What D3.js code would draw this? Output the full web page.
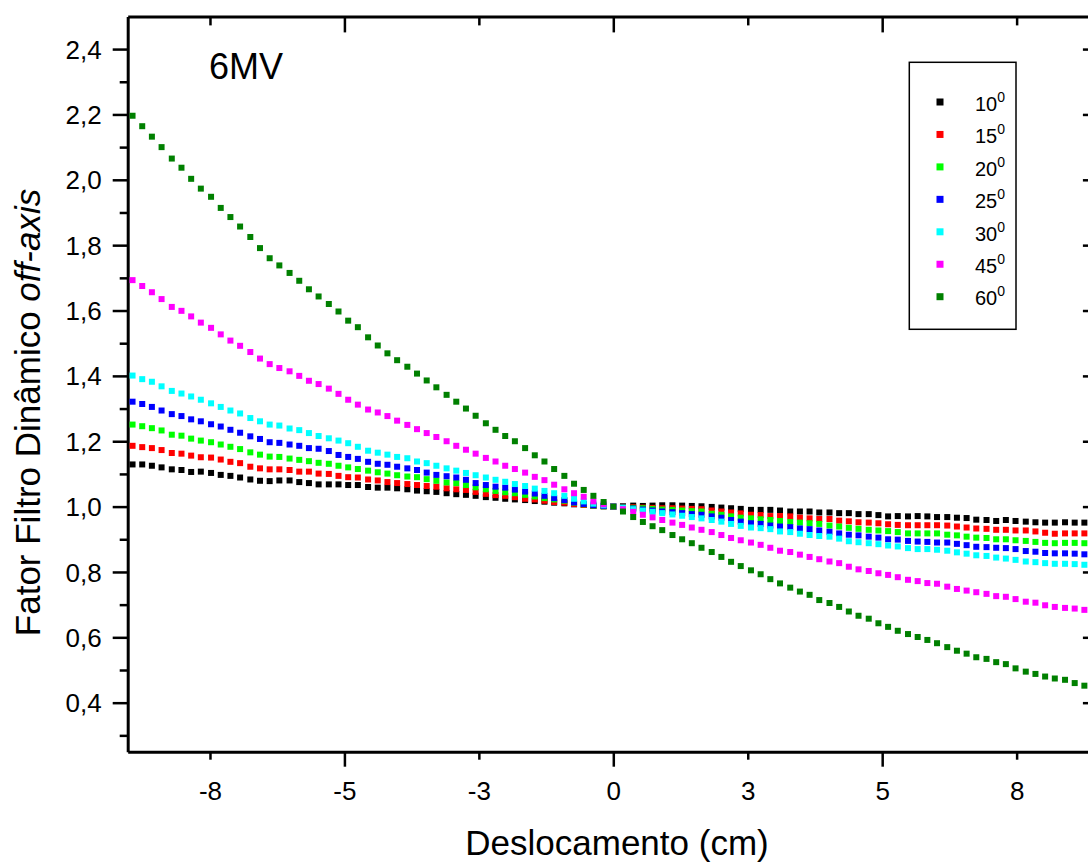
<!DOCTYPE html>
<html>
<head>
<meta charset="utf-8">
<script src="https://cdn.jsdelivr.net/npm/d3@7"></script>
<style>
  html, body { margin: 0; padding: 0; background: #fff; }
  svg { display: block; font-family: "Liberation Sans", Arial, sans-serif; }
</style>
</head>
<body>
<svg id="chart" width="1088" height="863"></svg>
<script>
// ---------- DATA ----------
const positions = [
  -8.94, -8.76, -8.58, -8.40, -8.21, -8.03, -7.85, -7.67, -7.48, -7.30,
  -7.12, -6.94, -6.75, -6.57, -6.39, -6.21, -6.02, -5.84, -5.66, -5.48,
  -5.29, -5.11, -4.93, -4.75, -4.56, -4.38, -4.20, -4.02, -3.83, -3.65,
  -3.47, -3.29, -3.10, -2.92, -2.74, -2.56, -2.37, -2.19, -2.01, -1.83,
  -1.64, -1.46, -1.28, -1.10, -0.91, -0.73, -0.55, -0.37, -0.18, 0.00,
  0.18, 0.37, 0.55, 0.73, 0.91, 1.10, 1.28, 1.46, 1.64, 1.83,
  2.01, 2.19, 2.37, 2.56, 2.74, 2.92, 3.10, 3.29, 3.47, 3.65,
  3.83, 4.02, 4.20, 4.38, 4.56, 4.75, 4.93, 5.11, 5.29, 5.48,
  5.66, 5.84, 6.02, 6.21, 6.39, 6.57, 6.75, 6.94, 7.12, 7.30,
  7.48, 7.67, 7.85, 8.03, 8.21, 8.40, 8.58, 8.76
];

const seriesNames = ["10", "15", "20", "25", "30", "45", "60"];

const s10 = [
  1.129, 1.129, 1.125, 1.120, 1.114, 1.112, 1.106, 1.107, 1.103, 1.097, 1.094, 1.089, 1.083, 1.079,
  1.078, 1.080, 1.080, 1.075, 1.072, 1.068, 1.068, 1.068, 1.066, 1.066, 1.060, 1.058, 1.058, 1.056,
  1.053, 1.049, 1.047, 1.045, 1.041, 1.038, 1.036, 1.033, 1.029, 1.027, 1.024, 1.022, 1.020, 1.017,
  1.015, 1.012, 1.010, 1.007, 1.005, 1.002, 1.001,
  1.000,
  1.001, 1.003, 1.002, 1.003, 1.004, 1.004, 1.003, 1.002,
  1.001, 0.999, 0.997, 0.995, 0.993, 0.990, 0.990, 0.990, 0.988, 0.985, 0.985, 0.985, 0.982, 0.982,
  0.980, 0.980, 0.977, 0.977, 0.974, 0.970, 0.971, 0.970, 0.971, 0.970, 0.968, 0.968, 0.966, 0.965,
  0.960, 0.959, 0.956, 0.959, 0.956, 0.954, 0.952, 0.951, 0.951, 0.952, 0.951, 0.951
];
const s15 = [
  1.186, 1.182, 1.179, 1.173, 1.164, 1.162, 1.156, 1.151, 1.150, 1.144, 1.137, 1.133, 1.122, 1.117,
  1.114, 1.114, 1.112, 1.107, 1.107, 1.101, 1.100, 1.094, 1.090, 1.089, 1.083, 1.080, 1.075, 1.072,
  1.069, 1.066, 1.063, 1.061, 1.056, 1.053, 1.051, 1.045, 1.039, 1.035, 1.033, 1.029, 1.024, 1.022,
  1.018, 1.014, 1.012, 1.008, 1.005, 1.002, 1.001,
  1.000,
  0.999, 0.998, 0.997, 0.996, 0.995, 0.995, 0.994, 0.993,
  0.992, 0.988, 0.985, 0.982, 0.979, 0.975, 0.974, 0.971, 0.971, 0.970, 0.966, 0.964, 0.962, 0.962,
  0.957, 0.955, 0.952, 0.951, 0.949, 0.946, 0.944, 0.943, 0.943, 0.943, 0.943, 0.942, 0.939, 0.936,
  0.933, 0.932, 0.929, 0.929, 0.927, 0.927, 0.924, 0.920, 0.917, 0.918, 0.918, 0.918
];
const s20 = [
  1.251, 1.246, 1.240, 1.233, 1.220, 1.217, 1.208, 1.202, 1.197, 1.190, 1.183, 1.176, 1.166, 1.159,
  1.153, 1.152, 1.147, 1.143, 1.139, 1.134, 1.131, 1.125, 1.120, 1.115, 1.110, 1.105, 1.101, 1.096,
  1.092, 1.090, 1.084, 1.079, 1.074, 1.072, 1.066, 1.059, 1.053, 1.048, 1.044, 1.041, 1.036, 1.031,
  1.026, 1.022, 1.018, 1.012, 1.007, 1.003, 1.001,
  1.000,
  0.998, 0.996, 0.995, 0.993, 0.991, 0.990, 0.988, 0.986,
  0.985, 0.978, 0.975, 0.970, 0.966, 0.964, 0.961, 0.959, 0.956, 0.953, 0.951, 0.949, 0.947, 0.942,
  0.939, 0.935, 0.932, 0.929, 0.927, 0.925, 0.922, 0.918, 0.918, 0.918, 0.918, 0.914, 0.912, 0.908,
  0.905, 0.904, 0.900, 0.900, 0.897, 0.895, 0.892, 0.889, 0.888, 0.889, 0.889, 0.888
];
const s25 = [
  1.321, 1.314, 1.305, 1.294, 1.283, 1.277, 1.267, 1.261, 1.252, 1.245, 1.235, 1.226, 1.215, 1.207,
  1.197, 1.195, 1.190, 1.186, 1.179, 1.177, 1.170, 1.158, 1.152, 1.146, 1.137, 1.131, 1.128, 1.122,
  1.117, 1.112, 1.104, 1.097, 1.093, 1.089, 1.082, 1.072, 1.066, 1.061, 1.058, 1.052, 1.046, 1.040,
  1.033, 1.026, 1.020, 1.013, 1.008, 1.004, 1.002,
  1.000,
  0.997, 0.994, 0.991, 0.988, 0.985, 0.983, 0.980, 0.977,
  0.975, 0.970, 0.966, 0.959, 0.954, 0.949, 0.947, 0.942, 0.939, 0.937, 0.933, 0.931, 0.927, 0.923,
  0.918, 0.914, 0.912, 0.908, 0.905, 0.900, 0.899, 0.895, 0.893, 0.892, 0.890, 0.890, 0.886, 0.882,
  0.877, 0.876, 0.874, 0.873, 0.870, 0.864, 0.862, 0.858, 0.857, 0.857, 0.856, 0.854
];
const s30 = [
  1.401, 1.390, 1.382, 1.368, 1.354, 1.346, 1.337, 1.327, 1.316, 1.305, 1.294, 1.285, 1.271, 1.261,
  1.251, 1.248, 1.239, 1.234, 1.225, 1.216, 1.209, 1.202, 1.194, 1.183, 1.171, 1.165, 1.159, 1.152,
  1.148, 1.138, 1.133, 1.125, 1.117, 1.110, 1.103, 1.096, 1.089, 1.082, 1.076, 1.069, 1.063, 1.055,
  1.048, 1.041, 1.033, 1.024, 1.016, 1.009, 1.004,
  1.000,
  0.996, 0.992, 0.988, 0.984, 0.980, 0.976, 0.972, 0.968,
  0.964, 0.959, 0.954, 0.947, 0.941, 0.936, 0.934, 0.931, 0.924, 0.922, 0.917, 0.913, 0.910, 0.908,
  0.902, 0.894, 0.891, 0.888, 0.885, 0.881, 0.878, 0.873, 0.870, 0.870, 0.868, 0.865, 0.860, 0.856,
  0.851, 0.849, 0.844, 0.841, 0.837, 0.832, 0.830, 0.827, 0.825, 0.825, 0.824, 0.822
];
const s45 = [
  1.693, 1.675, 1.656, 1.635, 1.611, 1.599, 1.582, 1.563, 1.547, 1.527, 1.508, 1.492, 1.473, 1.453,
  1.436, 1.424, 1.414, 1.400, 1.385, 1.375, 1.361, 1.345, 1.327, 1.312, 1.297, 1.288, 1.277, 1.263,
  1.250, 1.237, 1.225, 1.213, 1.200, 1.186, 1.174, 1.162, 1.149, 1.138, 1.125, 1.115, 1.104, 1.091,
  1.081, 1.067, 1.053, 1.041, 1.030, 1.016, 1.007,
  1.000,
  0.992, 0.984, 0.975, 0.967, 0.959, 0.951, 0.944, 0.936,
  0.929, 0.922, 0.913, 0.904, 0.897, 0.890, 0.883, 0.874, 0.865, 0.861, 0.853, 0.846, 0.839, 0.832,
  0.827, 0.816, 0.808, 0.803, 0.796, 0.791, 0.784, 0.776, 0.772, 0.766, 0.764, 0.755, 0.748, 0.743,
  0.738, 0.733, 0.726, 0.724, 0.717, 0.709, 0.706, 0.698, 0.693, 0.690, 0.688, 0.684
];
const s60 = [
  2.196, 2.164, 2.132, 2.100, 2.065, 2.037, 2.003, 1.973, 1.948, 1.914, 1.886, 1.857, 1.825, 1.791,
  1.760, 1.738, 1.715, 1.691, 1.665, 1.643, 1.620, 1.597, 1.569, 1.549, 1.518, 1.493, 1.469, 1.448,
  1.428, 1.407, 1.386, 1.365, 1.342, 1.321, 1.300, 1.278, 1.255, 1.235, 1.216, 1.200, 1.179, 1.157,
  1.138, 1.115, 1.094, 1.070, 1.051, 1.033, 1.014,
  1.000,
  0.985, 0.968, 0.953, 0.940, 0.928, 0.913, 0.900, 0.888,
  0.874, 0.861, 0.846, 0.831, 0.818, 0.805, 0.793, 0.778, 0.765, 0.752, 0.740, 0.730, 0.714, 0.705,
  0.693, 0.679, 0.666, 0.657, 0.643, 0.632, 0.620, 0.610, 0.601, 0.592, 0.582, 0.570, 0.559, 0.550,
  0.539, 0.534, 0.524, 0.518, 0.505, 0.495, 0.488, 0.480, 0.474, 0.470, 0.460, 0.452
];
const seriesValues = [s10, s15, s20, s25, s30, s45, s60];
const seriesColors = ["#000000", "#ff0000", "#00ff00", "#0000ff", "#00ffff", "#ff00ff", "#008000"];

const xMajorTicks = [-5, 0, 5];
const xMajorLabels = ["-5", "0", "5"];
const xMinorTicks = [-7.5, -2.5, 2.5, 7.5];
const xMinorLabels = ["-8", "-3", "3", "8"];
const yMajorTicks = [0.4, 0.6, 0.8, 1.0, 1.2, 1.4, 1.6, 1.8, 2.0, 2.2, 2.4];
const yMajorLabels = ["0,4", "0,6", "0,8", "1,0", "1,2", "1,4", "1,6", "1,8", "2,0", "2,2", "2,4"];
const yMinorTicks = [0.3, 0.5, 0.7, 0.9, 1.1, 1.3, 1.5, 1.7, 1.9, 2.1, 2.3];

// ---------- LAYOUT ----------
const svg = d3.select("#chart");
const x = d3.scaleLinear().domain([-9.03, 9.03]).range([127.7, 1098.9]);
const y = d3.scaleLinear().domain([0.25, 2.5]).range([751.7, 16.4]);
const X0 = x.range()[0], X1 = x.range()[1], Y0 = y.range()[0], Y1 = y.range()[1];

const AX_W = 3, TICK_W = 2.5, MAJ = 15, MIN = 8, MAJ_IN = 16, MIN_IN = 9;

function styleAxis(g, keepDomain) {
  g.selectAll(".tick line").attr("stroke", "#000").attr("stroke-width", TICK_W);
  if (keepDomain) g.select(".domain").attr("stroke", "#000").attr("stroke-width", AX_W);
  else g.select(".domain").remove();
  g.selectAll("text").attr("fill", "#000");
}

// bottom axis
const bMaj = svg.append("g").attr("transform", `translate(0,${Y0})`)
  .call(d3.axisBottom(x).tickValues(xMajorTicks).tickSize(MAJ).tickSizeOuter(0)
    .tickFormat((d, i) => xMajorLabels[i]));
const bMin = svg.append("g").attr("transform", `translate(0,${Y0})`)
  .call(d3.axisBottom(x).tickValues(xMinorTicks).tickSize(MIN).tickSizeOuter(0)
    .tickFormat((d, i) => xMinorLabels[i]));
[bMaj, bMin].forEach((g, i) => {
  styleAxis(g, i === 0);
  g.selectAll("text").attr("font-size", 26).attr("font-family", "Liberation Sans, Arial, sans-serif")
    .attr("y", 48).attr("dy", 0);
});

// top axis (inward ticks)
const tMaj = svg.append("g").attr("transform", `translate(0,${Y1})`)
  .call(d3.axisTop(x).tickValues(xMajorTicks).tickSize(-MAJ_IN).tickSizeOuter(0).tickFormat(""));
const tMin = svg.append("g").attr("transform", `translate(0,${Y1})`)
  .call(d3.axisTop(x).tickValues(xMinorTicks).tickSize(-MIN_IN).tickSizeOuter(0).tickFormat(""));
styleAxis(tMaj, true); styleAxis(tMin, false);

// left axis
const lMaj = svg.append("g").attr("transform", `translate(${X0},0)`)
  .call(d3.axisLeft(y).tickValues(yMajorTicks).tickSize(MAJ).tickSizeOuter(0).tickPadding(11)
    .tickFormat((d, i) => yMajorLabels[i]));
const lMin = svg.append("g").attr("transform", `translate(${X0},0)`)
  .call(d3.axisLeft(y).tickValues(yMinorTicks).tickSize(MIN).tickSizeOuter(0).tickFormat(""));
styleAxis(lMaj, true); styleAxis(lMin, false);
lMaj.selectAll("text").attr("font-size", 26).attr("font-family", "Liberation Sans, Arial, sans-serif")
  .attr("dy", "0.35em");

// right axis (inward ticks)
const rMaj = svg.append("g").attr("transform", `translate(${X1},0)`)
  .call(d3.axisRight(y).tickValues(yMajorTicks).tickSize(-MAJ_IN).tickSizeOuter(0).tickFormat(""));
const rMin = svg.append("g").attr("transform", `translate(${X1},0)`)
  .call(d3.axisRight(y).tickValues(yMinorTicks).tickSize(-MIN_IN).tickSizeOuter(0).tickFormat(""));
styleAxis(rMaj, true); styleAxis(rMin, false);

// ---------- MARKERS ----------
const MS = 6;
seriesValues.forEach((vals, si) => {
  const n = Math.min(vals.length, positions.length);
  const pts = d3.range(n).map(i => ({ x: positions[i], v: vals[i] }));
  svg.append("g").selectAll("rect").data(pts).join("rect")
    .attr("x", d => x(d.x) - MS / 2)
    .attr("y", d => y(d.v) - MS / 2)
    .attr("width", MS).attr("height", MS)
    .attr("fill", seriesColors[si]);
});

// ---------- TEXTS ----------
svg.append("text").attr("x", 209).attr("y", 79).attr("font-size", 36).attr("fill", "#000").text("6MV");

svg.append("text").attr("x", 617).attr("y", 855).attr("text-anchor", "middle")
  .attr("font-size", 35).attr("fill", "#000").text("Deslocamento (cm)");

const yt = svg.append("text").attr("transform", "translate(40,412.5) rotate(-90)")
  .attr("text-anchor", "middle").attr("font-size", 35).attr("fill", "#000");
yt.append("tspan").text("Fator Filtro Dinâmico ");
yt.append("tspan").attr("font-style", "italic").text("off-axis");

// ---------- LEGEND ----------
const lg = svg.append("g");
lg.append("rect").attr("x", 909.3).attr("y", 62.3).attr("width", 106.7).attr("height", 267)
  .attr("fill", "#fff").attr("stroke", "#000").attr("stroke-width", 1.5);
seriesNames.forEach((name, i) => {
  const cy = 102 + i * 32.45;
  lg.append("rect").attr("x", 940 - 3.5).attr("y", cy - 3.5).attr("width", 7).attr("height", 7)
    .attr("fill", seriesColors[i]);
  const t = lg.append("text").attr("x", 975).attr("y", cy + 8.7).attr("font-size", 20).attr("fill", "#000");
  t.append("tspan").text(name);
  t.append("tspan").attr("font-size", 14).attr("dy", -9).text("0");
});
</script>
</body>
</html>
